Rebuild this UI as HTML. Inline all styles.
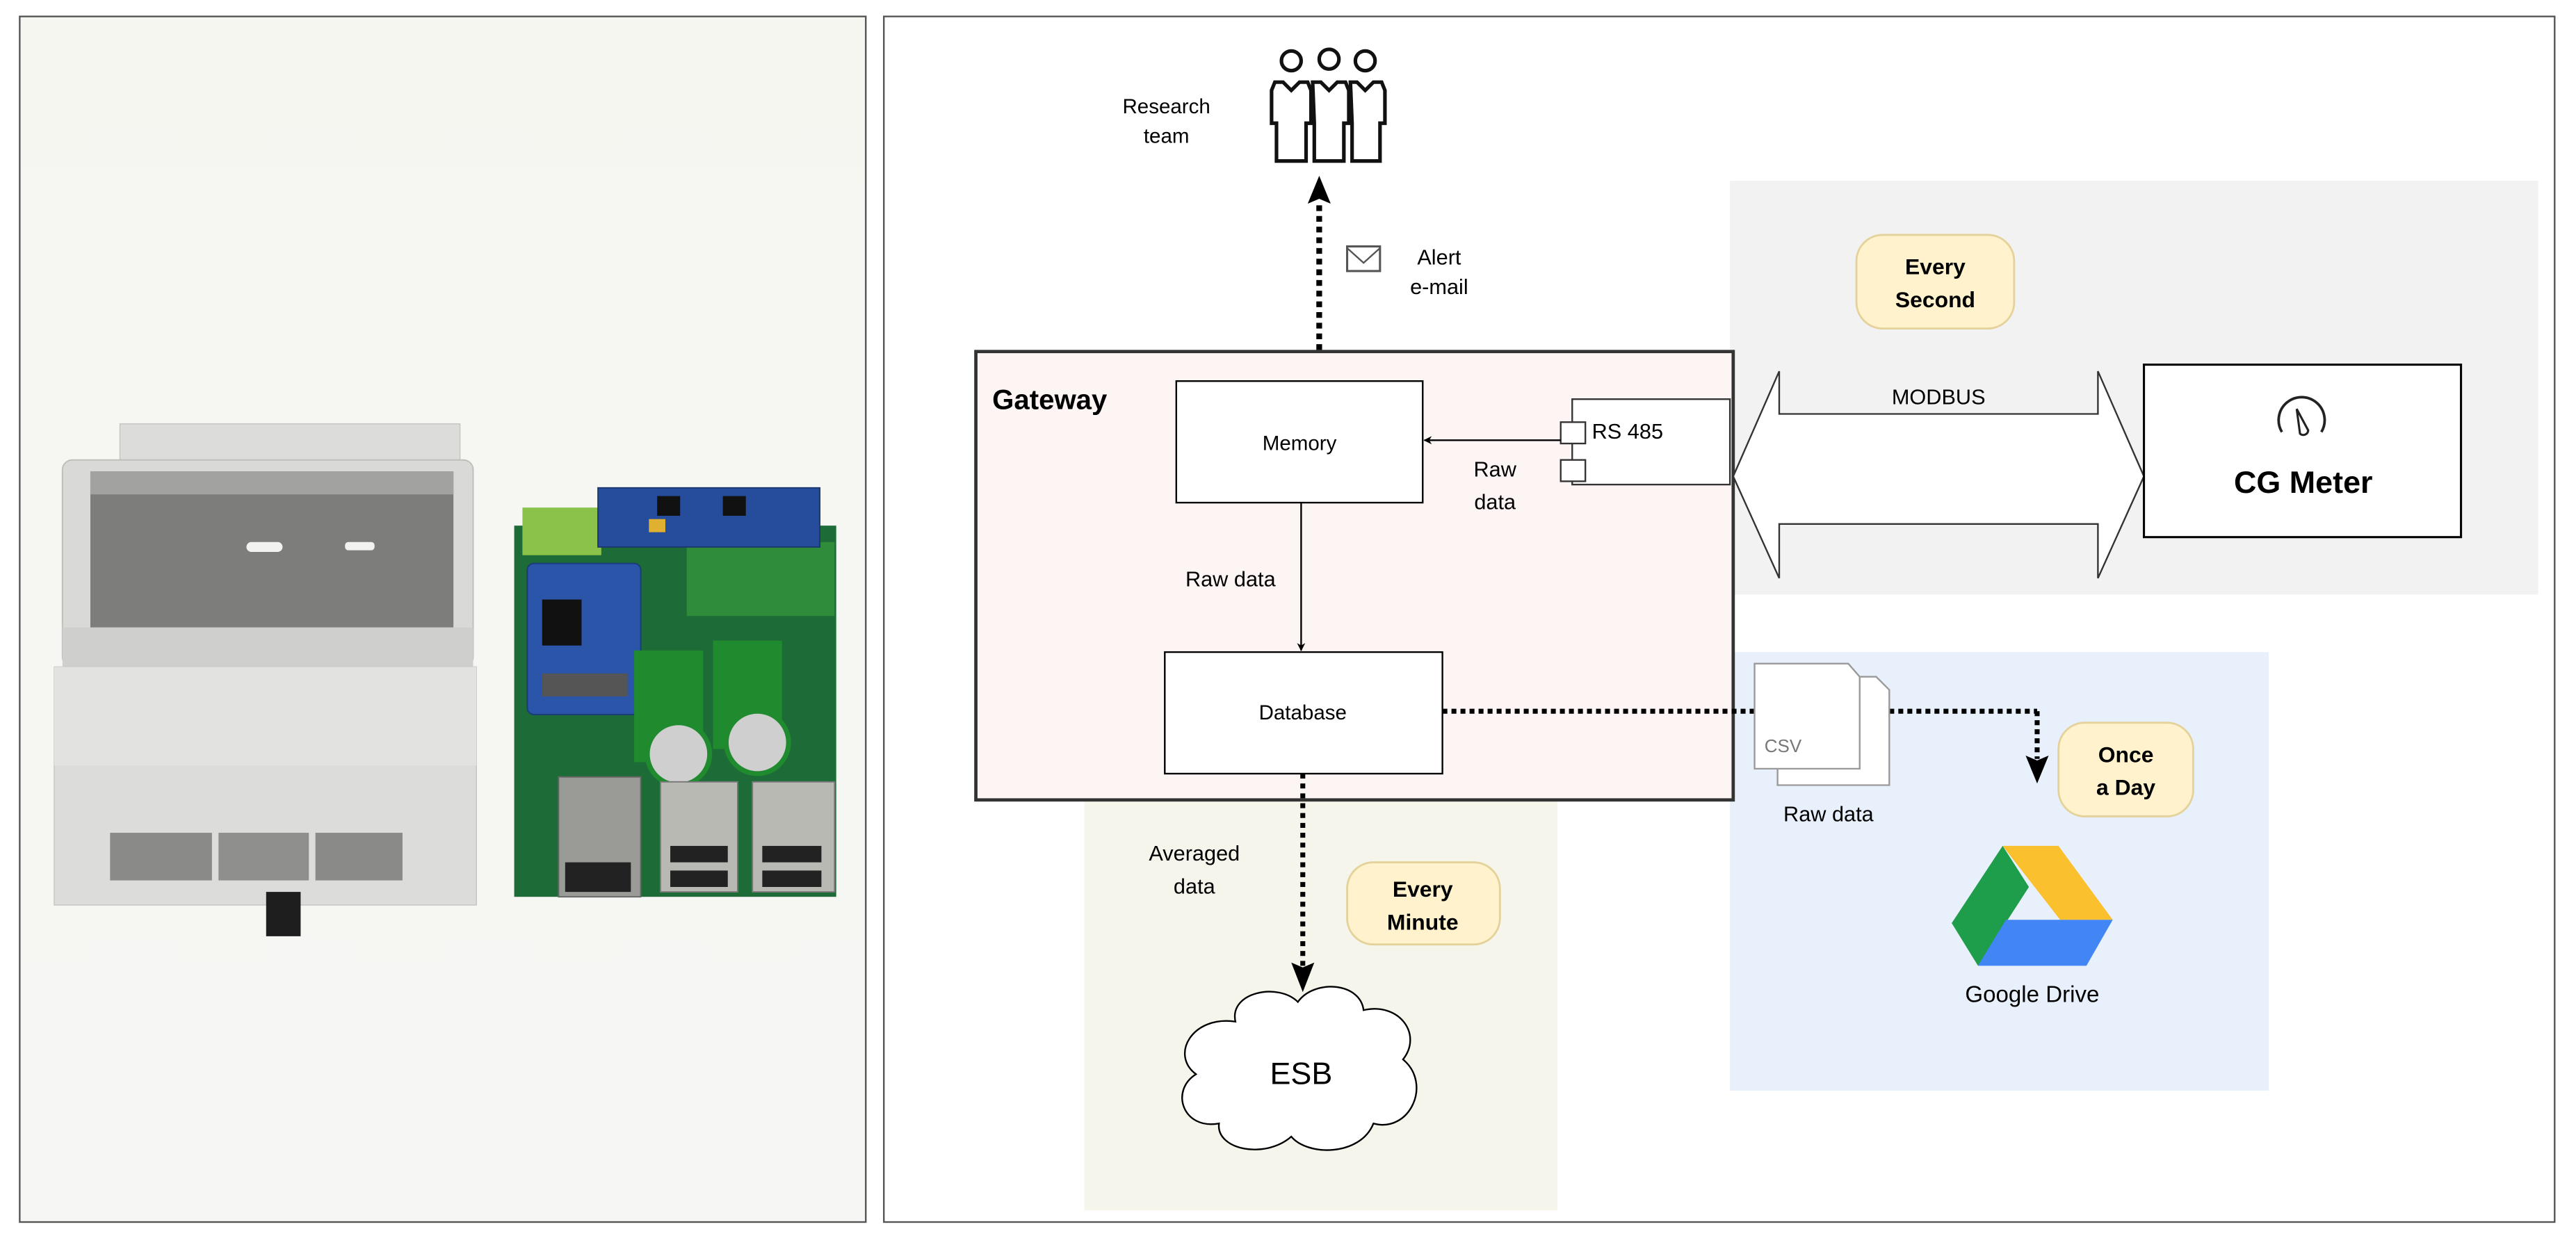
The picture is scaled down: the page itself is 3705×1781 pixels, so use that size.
<!DOCTYPE html>
<html><head><meta charset="utf-8"><style>
html,body{margin:0;padding:0;background:#fff;}
svg{display:block;}
text{font-family:"Liberation Sans",Arial,sans-serif;}
</style></head><body>
<svg width="3705" height="1781" viewBox="0 0 1568 753.7" xmlns="http://www.w3.org/2000/svg">
<defs>
<linearGradient id="bg" x1="0" y1="0" x2="0" y2="1"><stop offset="0" stop-color="#f6f6f1"/><stop offset="1" stop-color="#f6f6f4"/></linearGradient>
<marker id="ah" viewBox="0 0 10 10" refX="9" refY="5" markerWidth="5" markerHeight="5" orient="auto"><path d="M0,0 L10,5 L0,10 L3,5 z" fill="#000"/></marker>
</defs>
<!-- LEFT PHOTO PANEL -->
<rect x="12" y="10" width="515" height="734" fill="url(#bg)" stroke="#555" stroke-width="1"/>
<!-- housing -->
<rect x="73" y="258" width="207" height="25" fill="#dcdcda" stroke="#c4c4c0" stroke-width="0.6"/>
<rect x="38" y="280" width="250" height="126" rx="6" fill="#d9d9d7" stroke="#bdbdb9" stroke-width="0.8"/>
<rect x="55" y="287" width="221" height="95" fill="#7d7d7b"/>
<rect x="55" y="287" width="221" height="14" fill="#a2a2a0"/>
<rect x="150" y="330" width="22" height="6" rx="3" fill="#f2f2f0"/>
<rect x="210" y="330" width="18" height="5" rx="2" fill="#f2f2f0"/>
<rect x="38" y="382" width="250" height="24" fill="#cfcfcd"/>
<rect x="33" y="406" width="257" height="145" fill="#dcdcda" stroke="#c4c4c0" stroke-width="0.6"/>
<rect x="33" y="406" width="257" height="60" fill="#e2e2e0"/>
<rect x="67" y="507" width="62" height="29" fill="#8a8a88"/>
<rect x="133" y="507" width="55" height="29" fill="#8f8f8d"/>
<rect x="192" y="507" width="53" height="29" fill="#8a8a88"/>
<rect x="162" y="543" width="21" height="27" fill="#1e1e1e"/>
<!-- board -->
<rect x="313" y="320" width="196" height="226" fill="#1d6b36"/>
<rect x="318" y="309" width="48" height="29" fill="#8bc34a"/>
<rect x="418" y="330" width="90" height="45" fill="#2e8c3a"/>
<rect x="364" y="297" width="135" height="36" fill="#254d9c" stroke="#1a3770" stroke-width="0.8"/>
<rect x="400" y="302" width="14" height="12" fill="#111"/><rect x="440" y="302" width="14" height="12" fill="#111"/>
<rect x="395" y="316" width="10" height="8" fill="#e0b030"/>
<rect x="321" y="343" width="69" height="92" rx="4" fill="#2a55a8" stroke="#1b3a7a" stroke-width="0.8"/>
<rect x="330" y="365" width="24" height="28" fill="#111"/>
<rect x="330" y="410" width="52" height="14" fill="#555"/>
<rect x="386" y="396" width="42" height="68" fill="#1f8a2e"/>
<rect x="434" y="390" width="42" height="66" fill="#1f8a2e"/>
<circle cx="413" cy="459" r="19" fill="#cfcfcf" stroke="#1f8a2e" stroke-width="3"/>
<circle cx="461" cy="452" r="19" fill="#cfcfcf" stroke="#1f8a2e" stroke-width="3"/>
<rect x="340" y="473" width="50" height="73" fill="#9a9a96" stroke="#666" stroke-width="0.8"/>
<rect x="344" y="525" width="40" height="18" fill="#222"/>
<rect x="402" y="476" width="47" height="67" fill="#b9b9b4" stroke="#777" stroke-width="0.8"/>
<rect x="408" y="515" width="35" height="10" fill="#222"/><rect x="408" y="530" width="35" height="10" fill="#222"/>
<rect x="458" y="476" width="50" height="67" fill="#b9b9b4" stroke="#777" stroke-width="0.8"/>
<rect x="464" y="515" width="36" height="10" fill="#222"/><rect x="464" y="530" width="36" height="10" fill="#222"/>

<!-- RIGHT PANEL -->
<rect x="538" y="10" width="1017" height="734" fill="#fff" stroke="#555" stroke-width="1"/>
<rect x="1053" y="110" width="492" height="252" fill="#f2f2f2"/>
<rect x="1053" y="397" width="328" height="267" fill="#e8f0fb"/>
<rect x="660" y="487" width="288" height="250" fill="#f5f5ec"/>
<rect x="594" y="214" width="461" height="273" fill="#fdf4f4" stroke="#333" stroke-width="2"/>
<text x="604" y="249" font-size="17" font-weight="bold">Gateway</text>
<rect x="716" y="232" width="150" height="74" fill="#fff" stroke="#000" stroke-width="1"/>
<text x="791" y="274" font-size="12.5" text-anchor="middle">Memory</text>
<rect x="709" y="397" width="169" height="74" fill="#fff" stroke="#000" stroke-width="1"/>
<text x="793" y="438" font-size="12.5" text-anchor="middle">Database</text>
<rect x="957" y="243" width="96" height="52" fill="#fff" stroke="#333" stroke-width="1"/>
<rect x="950" y="257" width="15" height="13" fill="#fff" stroke="#333" stroke-width="1"/>
<rect x="950" y="280" width="15" height="13" fill="#fff" stroke="#333" stroke-width="1"/>
<text x="969" y="267" font-size="13">RS 485</text>
<line x1="950" y1="268" x2="867" y2="268" stroke="#000" stroke-width="1" marker-end="url(#ah)"/>
<text x="910" y="290" font-size="13" text-anchor="middle">Raw</text>
<text x="910" y="310" font-size="13" text-anchor="middle">data</text>
<line x1="792" y1="306" x2="792" y2="396" stroke="#000" stroke-width="1" marker-end="url(#ah)"/>
<text x="749" y="357" font-size="13" text-anchor="middle">Raw data</text>
<path d="M1055,290 L1083,226 L1083,252 L1277,252 L1277,226 L1305,290 L1277,352 L1277,319 L1083,319 L1083,352 Z" fill="#fff" stroke="#333" stroke-width="1"/>
<text x="1180" y="246" font-size="13" text-anchor="middle">MODBUS</text>
<rect x="1305" y="222" width="193" height="105" fill="#fff" stroke="#000" stroke-width="1.3"/>
<path d="M1389,263 A14,14 0 1 1 1413,263" fill="none" stroke="#222" stroke-width="1.6"/>
<path d="M1398,249 L1405,262 A3,3 0 0 1 1400,264 Z" fill="none" stroke="#222" stroke-width="1.3"/>
<text x="1402" y="300" font-size="19" font-weight="bold" text-anchor="middle">CG Meter</text>
<rect x="1130" y="143" width="96" height="57" rx="16" fill="#fff2cc" stroke="#e4d29a" stroke-width="1.2"/>
<text x="1178" y="167" font-size="13.5" font-weight="bold" text-anchor="middle">Every</text>
<text x="1178" y="187" font-size="13.5" font-weight="bold" text-anchor="middle">Second</text>
<rect x="1253" y="440" width="82" height="57" rx="16" fill="#fff2cc" stroke="#e4d29a" stroke-width="1.2"/>
<text x="1294" y="464" font-size="13.5" font-weight="bold" text-anchor="middle">Once</text>
<text x="1294" y="484" font-size="13.5" font-weight="bold" text-anchor="middle">a Day</text>
<rect x="820" y="525" width="93" height="50" rx="16" fill="#fff2cc" stroke="#e4d29a" stroke-width="1.2"/>
<text x="866" y="546" font-size="13.5" font-weight="bold" text-anchor="middle">Every</text>
<text x="866" y="566" font-size="13.5" font-weight="bold" text-anchor="middle">Minute</text>
<g fill="none" stroke="#111" stroke-width="2.2">
<circle cx="786" cy="37" r="6"/><circle cx="809" cy="36" r="6"/><circle cx="831" cy="37" r="6"/>
<path d="M776,50 L781,50 L786,55 L791,50 L796,50 L798,55 L798,75 L795,75 L795,98 L777,98 L777,75 L774,75 L774,55 Z"/>
<path d="M799,50 L804,50 L809,55 L814,50 L819,50 L821,55 L821,75 L818,75 L818,98 L800,98 L800,75 Z"/>
<path d="M822,50 L826,50 L831,55 L836,50 L841,50 L843,55 L843,75 L840,75 L840,98 L823,98 L823,75 Z"/>
</g>
<text x="710" y="69" font-size="12.5" text-anchor="middle">Research</text>
<text x="710" y="87" font-size="12.5" text-anchor="middle">team</text>
<line x1="803" y1="213" x2="803" y2="122" stroke="#000" stroke-width="3.5" stroke-dasharray="3.5,3"/>
<path d="M803,107 L810,124 L803,121 L796,124 Z" fill="#000"/>
<rect x="820" y="150" width="20" height="15" fill="#fff" stroke="#555" stroke-width="1.3"/>
<path d="M820,151 L830,160 L840,151" fill="none" stroke="#555" stroke-width="1"/>
<text x="876" y="161" font-size="13" text-anchor="middle">Alert</text>
<text x="876" y="179" font-size="13" text-anchor="middle">e-mail</text>
<line x1="878" y1="433" x2="1068" y2="433" stroke="#000" stroke-width="3" stroke-dasharray="3,2.5"/>
<line x1="1150" y1="433" x2="1240" y2="433" stroke="#000" stroke-width="3" stroke-dasharray="3,2.5"/>
<line x1="1240" y1="433" x2="1240" y2="462" stroke="#000" stroke-width="3" stroke-dasharray="3,2.5"/>
<path d="M1240,477 L1233,460 L1240,463 L1247,460 Z" fill="#000"/>
<path d="M1082,412 L1142,412 L1150,420 L1150,478 L1082,478 Z" fill="#fff" stroke="#999" stroke-width="1"/>
<path d="M1068,404 L1125,404 L1132,412 L1132,468 L1068,468 Z" fill="#fff" stroke="#999" stroke-width="1"/>
<text x="1074" y="458" font-size="11" fill="#777">CSV</text>
<text x="1113" y="500" font-size="13" text-anchor="middle">Raw data</text>
<path d="M1219,515 L1253,515 L1286,560 L1254,560 Z" fill="#fbc02d"/>
<path d="M1219,515 L1235,540 L1204,588 L1188,562 Z" fill="#1e9e4a"/>
<path d="M1221,560 L1286,560 L1270,588 L1204,588 Z" fill="#4285f4"/>
<text x="1237" y="610" font-size="14" text-anchor="middle">Google Drive</text>
<line x1="793" y1="471" x2="793" y2="588" stroke="#000" stroke-width="3" stroke-dasharray="3,3"/>
<path d="M793,604 L786,586 L793,589 L800,586 Z" fill="#000"/>
<text x="727" y="524" font-size="13" text-anchor="middle">Averaged</text>
<text x="727" y="544" font-size="13" text-anchor="middle">data</text>
<path d="M752,622 C748,604 778,598 790,610 C800,596 828,598 830,615 C852,610 866,630 854,645 C872,660 858,690 836,684 C828,704 796,704 786,692 C770,706 740,700 742,684 C720,688 712,664 728,654 C712,642 726,618 752,622 Z" fill="#fff" stroke="#000" stroke-width="1"/>
<text x="792" y="660" font-size="19" text-anchor="middle">ESB</text>
</svg>
</body></html>
